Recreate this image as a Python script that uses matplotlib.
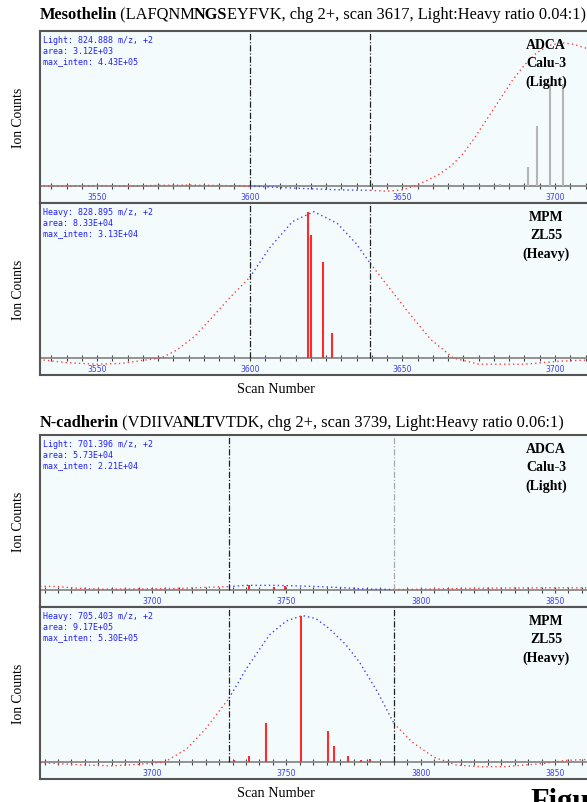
"Extracted ion chromatograms, light vs heavy (SILAC style)"

import numpy as np
import matplotlib.pyplot as plt
from matplotlib.ticker import MultipleLocator

# ---- data: relative intensity, 1.0 = top of panel ----
mesoTitle = [("Mesothelin", "bold"), (" (LAFQNM", "normal"), ("NGS", "bold"),
             ("EYFVK, chg 2+, scan 3617, Light:Heavy ratio 0.04:1)", "normal")]
ncadTitle = [("N-cadherin", "bold"), (" (VDIIVA", "normal"), ("NLT", "bold"),
             ("VTDK, chg 2+, scan 3739, Light:Heavy ratio 0.06:1)", "normal")]

mesoWindow = [3600, 3639.5]
ncadWindow = [3728.6, 3790]

mesoLightInfo = ["Light: 824.888 m/z, +2", "area: 3.12E+03", "max_inten: 4.43E+05"]
mesoHeavyInfo = ["Heavy: 828.895 m/z, +2", "area: 8.33E+04", "max_inten: 3.13E+04"]
ncadLightInfo = ["Light: 701.396 m/z, +2", "area: 5.73E+04", "max_inten: 2.21E+04"]
ncadHeavyInfo = ["Heavy: 705.403 m/z, +2", "area: 9.17E+05", "max_inten: 5.30E+05"]

lightSample = "ADCA\nCalu-3\n(Light)"
heavySample = "MPM\nZL55\n(Heavy)"

# fitted elution profile (dotted)
mesoLightScan = [3531, 3540, 3550, 3560, 3570, 3580, 3590, 3600, 3610, 3620, 3630, 3639.5,
                 3645, 3650, 3654, 3658, 3662, 3666, 3670, 3674, 3678, 3682, 3686, 3690,
                 3694, 3698, 3702, 3706, 3710, 3715]
mesoLightFit = [0.0, 0.0, 0.003, 0.0, 0.004, 0.006, 0.003, 0.0, -0.01, -0.018, -0.025, -0.028,
                -0.034, -0.025, 0.0, 0.035, 0.075, 0.13, 0.21, 0.32, 0.44, 0.56, 0.68, 0.78,
                0.86, 0.905, 0.925, 0.915, 0.89, 0.84]
mesoHeavyScan = [3531, 3540, 3550, 3558, 3565, 3571, 3576, 3582, 3588.5, 3594, 3600, 3606.5,
                 3614, 3621, 3628.6, 3634.8, 3639.5, 3647, 3653, 3659.3, 3666.7, 3675, 3690,
                 3702, 3715]
mesoHeavyFit = [-0.01, -0.03, -0.04, -0.035, -0.015, 0.0, 0.05, 0.14, 0.28, 0.40, 0.52, 0.71,
                0.88, 0.944, 0.87, 0.74, 0.61, 0.42, 0.27, 0.12, 0.0, -0.04, -0.04,
                -0.02, -0.01]
ncadLightScan = [3658.3, 3665, 3672, 3680, 3690, 3700, 3710, 3720, 3728.6, 3735, 3745, 3755,
                 3762, 3770, 3780, 3790, 3800, 3815, 3830, 3845, 3866.7]
ncadLightFit = [0.024, 0.022, 0.012, 0.006, 0.006, 0.008, 0.01, 0.017, 0.022, 0.03, 0.03, 0.026,
                0.022, 0.016, 0.006, 0.003, 0.005, 0.01, 0.013, 0.014, 0.014]
ncadHeavyScan = [3658.3, 3665, 3675, 3685, 3695, 3704.8, 3713, 3720, 3728.6, 3735.4, 3743.7,
                 3750, 3756, 3761, 3766, 3772, 3777.2, 3784, 3790, 3796.7, 3805, 3813.4, 3822,
                 3831.5, 3845.4, 3853.7, 3866.7]
ncadHeavyFit = [-0.005, -0.01, -0.02, -0.025, -0.015, 0.0, 0.086, 0.215, 0.41, 0.61, 0.82,
                0.91, 0.945, 0.925, 0.86, 0.76, 0.645, 0.45, 0.25, 0.13, 0.03, -0.02, -0.03,
                -0.03, -0.01, 0.01, 0.02]

# individual scans (sticks)
mesoLightBarScan = [3682, 3691.3, 3694, 3698.5, 3702.5]
mesoLightBarInt = [0.01, 0.12, 0.39, 0.66, 0.66]
mesoHeavyBarScan = [3619, 3620, 3624, 3627]
mesoHeavyBarInt = [0.944, 0.795, 0.62, 0.16]
ncadLightBarScan = [3736, 3745.5, 3749.6]
ncadLightBarInt = [0.035, 0.02, 0.025]
ncadHeavyBarScan = [3730.5, 3736, 3742.5, 3755.6, 3765.6, 3767.8, 3773, 3777.8, 3781]
ncadHeavyBarInt = [0.01, 0.04, 0.25, 0.945, 0.20, 0.10, 0.04, 0.01, 0.02]

W, H = 587, 803
YLO = -0.1097                 # room under the baseline for the scan axis
BASE = -YLO / (1 - YLO)       # baseline as axes fraction
SERIF = "Liberation Serif"

fig = plt.figure(figsize=(W / 100, H / 100), dpi=100)


def addAxes(top, bottom, left=40, right=600):
    return fig.add_axes([left / W, 1 - bottom / H, (right - left) / W, (bottom - top) / H])


def plotPanel(ax, scans, fit, barScans, barInts, window, xlim, info, sample, lineColors):
    ax.set_facecolor("#f4fbfc")
    ax.set_xlim(xlim)
    ax.set_ylim(YLO, 1)
    ax.set_xticks([])
    ax.set_yticks([])
    for s in ax.spines.values():
        s.set_color("#555555")
        s.set_linewidth(1.5)

    scans = np.asarray(scans)
    fit = np.asarray(fit)
    lo, hi = window
    dots = (0, (1, 2.2))
    for m in (scans <= lo, scans >= hi):
        ax.plot(scans[m], fit[m], color="#ff4040", lw=1.0, ls=dots)
    mid = (scans >= lo) & (scans <= hi)
    ax.plot(scans[mid], fit[mid], color="#4040ff", lw=1.0, ls=dots)

    barScans = np.asarray(barScans)
    inside = (barScans >= lo) & (barScans <= hi)
    cols = np.where(inside, "#ff2b2b", "#b5b5b5")
    ax.vlines(barScans, 0, barInts, colors=cols, lw=1.5)

    for x, c in zip(window, lineColors):
        ax.axvline(x, ymin=BASE, ymax=1, color=c, lw=0.9, ls=(0, (5, 1.5, 1, 1.5)))

    sec = ax.secondary_xaxis(BASE)
    sec.xaxis.set_major_locator(MultipleLocator(50))
    sec.xaxis.set_minor_locator(MultipleLocator(5))
    sec.tick_params(which="both", direction="inout", length=4, width=0.8, color="#444444",
                    labelsize=5.5, labelcolor="#3b3bff", pad=2)
    sec.spines["bottom"].set_color("#8a8a8a")
    sec.spines["bottom"].set_linewidth(1.3)

    ax.annotate("\n".join(info), xy=(0, 1), xycoords="axes fraction", xytext=(3, -4),
                textcoords="offset pixels", ha="left", va="top", family="DejaVu Sans Mono",
                size=6, color="#2020ff", linespacing=1.25)
    ax.annotate(sample, xy=(0, 1), xycoords="axes fraction", xytext=(506, -7),
                textcoords="offset pixels", ha="center", va="top", family=SERIF,
                weight="bold", size=10, linespacing=1.5)
    ax.set_ylabel("Ion Counts", family=SERIF, size=9.8)
    ax.yaxis.set_label_coords(-15 / 560, 0.5)


def drawTitle(ax, pieces, yPx):
    prev = ax.annotate(pieces[0][0], xy=(40, H - yPx), xycoords="figure pixels", va="center",
                       ha="left", weight=pieces[0][1], family=SERIF, size=11.8,
                       annotation_clip=False)
    for text, weight in pieces[1:]:
        # chain the pieces so bold and plain runs sit on one line
        prev = ax.annotate(text, xy=(1, 0), xycoords=prev, xytext=(-1, 0),
                           textcoords="offset pixels", va="bottom", ha="left",
                           weight=weight, family=SERIF, size=11.8, annotation_clip=False)


if __name__ == "__main__":
    mesoLim = (3531.3, 3714.75)
    ncadLim = (3658.3, 3866.75)

    ax1 = addAxes(32, 204)
    ax2 = addAxes(204, 376)
    ax3 = addAxes(436, 608)
    ax4 = addAxes(608, 780)

    plotPanel(ax1, mesoLightScan, mesoLightFit, mesoLightBarScan, mesoLightBarInt,
              mesoWindow, mesoLim, mesoLightInfo, lightSample, ["#222222", "#222222"])
    plotPanel(ax2, mesoHeavyScan, mesoHeavyFit, mesoHeavyBarScan, mesoHeavyBarInt,
              mesoWindow, mesoLim, mesoHeavyInfo, heavySample, ["#222222", "#222222"])
    plotPanel(ax3, ncadLightScan, ncadLightFit, ncadLightBarScan, ncadLightBarInt,
              ncadWindow, ncadLim, ncadLightInfo, lightSample, ["#222222", "#aaaaaa"])
    plotPanel(ax4, ncadHeavyScan, ncadHeavyFit, ncadHeavyBarScan, ncadHeavyBarInt,
              ncadWindow, ncadLim, ncadHeavyInfo, heavySample, ["#222222", "#222222"])

    drawTitle(ax1, mesoTitle, 15)
    drawTitle(ax3, ncadTitle, 423)

    fig.text(276 / W, 1 - 390 / H, "Scan Number", ha="center", va="center", family=SERIF,
             size=10.3)
    fig.text(276 / W, 1 - 794 / H, "Scan Number", ha="center", va="center", family=SERIF,
             size=10.3)
    fig.text(530 / W, 1 - 788 / H, "Figure", ha="left", va="top", weight="bold",
             family=SERIF, size=22)

    fig.savefig("out.png", dpi=100)
